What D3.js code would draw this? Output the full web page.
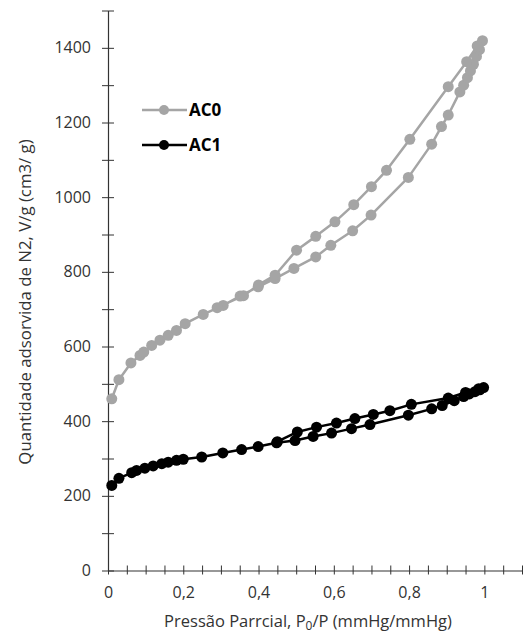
<!DOCTYPE html>
<html>
<head>
<meta charset="utf-8">
<script src="https://cdn.jsdelivr.net/npm/d3@7"></script>
<style>
  html, body { margin: 0; padding: 0; background: #fff; }
  svg { display: block; font-family: "Open Sans", "DejaVu Sans", sans-serif; }
</style>
</head>
<body>
<svg id="chart" width="524" height="637"></svg>
<script>
// ---- Data ----
const seriesNames = ["AC0", "AC1"];

// AC0: adsorption (increasing P/P0) then desorption (decreasing)
const ac0P = [0.010, 0.029, 0.061, 0.085, 0.095, 0.116, 0.138, 0.160, 0.182, 0.205,
              0.253, 0.306, 0.351, 0.399, 0.444, 0.494, 0.552, 0.592, 0.650, 0.699,
              0.798, 0.860, 0.886, 0.904, 0.935, 0.945, 0.955, 0.963, 0.971, 0.979,
              0.987, 0.995,
              0.981, 0.953, 0.904, 0.802, 0.740, 0.700, 0.653, 0.603, 0.552, 0.501,
              0.444, 0.400, 0.360, 0.290];
const ac0V = [460, 511, 556, 576, 585, 603, 617, 630, 643, 661,
              686, 710, 735, 760, 782, 809, 840, 871, 910, 952,
              1053, 1142, 1189, 1220, 1282, 1300, 1320, 1338, 1356, 1377,
              1395, 1419,
              1405, 1363, 1296, 1155, 1072, 1028, 980, 934, 895, 858,
              791, 765, 736, 704];

// AC1: adsorption then desorption
const ac1P = [0.010, 0.029, 0.063, 0.076, 0.098, 0.120, 0.143, 0.160, 0.182, 0.200,
              0.249, 0.305, 0.355, 0.399, 0.448, 0.497, 0.545, 0.594, 0.647, 0.696,
              0.798, 0.860, 0.888, 0.920, 0.945, 0.960, 0.975, 0.988, 0.998,
              0.985, 0.950, 0.904, 0.806, 0.749, 0.705, 0.656, 0.607, 0.554, 0.503,
              0.450];
const ac1V = [228, 247, 262, 268, 274, 280, 286, 290, 295, 298,
              304, 315, 324, 332, 342, 348, 359, 368, 380, 391,
              416, 433, 442, 455, 466, 473, 479, 484, 490,
              487, 477, 462, 445, 428, 418, 407, 395, 384, 371,
              345];

const xTicks = d3.range(0, 23).map(i => +(i * 0.05).toFixed(2));   // 0 .. 1.1
const xLabelTicks = [0, 0.2, 0.4, 0.6, 0.8, 1];
const yTicks = d3.range(0, 1501, 100);
const yLabelTicks = [0, 200, 400, 600, 800, 1000, 1200, 1400];

const xTitle = "Pressão Parrcial, P";
const xTitleSub = "0";
const xTitleRest = "/P (mmHg/mmHg)";
const yTitle = "Quantidade adsorvida de N2, V/g (cm3/ g)";

// ---- Chart ----
const svg = d3.select("#chart");
const x = d3.scaleLinear().domain([0, 1.1]).range([108, 522]);
const y = d3.scaleLinear().domain([0, 1500]).range([570.5, 10.5]);

const locale = d3.formatLocale({decimal: ",", thousands: ".", grouping: [3], currency: ["", ""]});
const fmtX = locale.format("~g");

const axisColor = "#333333";
const textColor = "#333333";

// X axis
const xAxis = d3.axisBottom(x)
  .tickValues(xTicks)
  .tickSize(5)
  .tickSizeOuter(0)
  .tickFormat(d => xLabelTicks.some(v => Math.abs(v - d) < 1e-9) ? fmtX(d) : "");
const gx = svg.append("g").attr("transform", `translate(0,${y(0)})`).call(xAxis);
gx.select(".domain").attr("stroke", axisColor).attr("stroke-width", 1.2);
gx.selectAll(".tick line").attr("stroke", axisColor).attr("y1", -5).attr("y2", 4);
gx.selectAll(".tick text").attr("fill", textColor).attr("font-size", 16)
  .attr("font-family", "Open Sans").attr("y", 16);

// Y axis
const yAxis = d3.axisLeft(y)
  .tickValues(yTicks)
  .tickSize(6)
  .tickSizeOuter(0)
  .tickFormat(d => yLabelTicks.includes(d) ? String(d) : "");
const gy = svg.append("g").attr("transform", `translate(${x(0)},0)`).call(yAxis);
gy.select(".domain").attr("stroke", axisColor).attr("stroke-width", 1.2);
gy.selectAll(".tick line").attr("stroke", axisColor).attr("x1", 6).attr("x2", -6);
gy.selectAll(".tick text").attr("fill", textColor).attr("font-size", 16)
  .attr("font-family", "Open Sans").attr("x", -17);

// Axis titles
const xt = svg.append("text")
  .attr("x", 308).attr("y", 627)
  .attr("text-anchor", "middle")
  .attr("fill", textColor)
  .attr("font-size", 16.5);
xt.append("tspan").text(xTitle);
xt.append("tspan").attr("font-size", 12).attr("dy", 3).text(xTitleSub);
xt.append("tspan").attr("dy", -3).text(xTitleRest);

svg.append("text")
  .attr("transform", "translate(31,302) rotate(-90)")
  .attr("text-anchor", "middle")
  .attr("fill", textColor)
  .attr("font-size", 16.8)
  .text(yTitle);

// Series
const series = [
  {name: seriesNames[0], P: ac0P, V: ac0V, color: "#a5a5a5"},
  {name: seriesNames[1], P: ac1P, V: ac1V, color: "#000000"}
];

const line = d3.line().x(d => x(d[0])).y(d => y(d[1]));

series.forEach(s => {
  const pts = s.P.map((p, i) => [p, s.V[i]]);
  const g = svg.append("g");
  g.append("path").datum(pts)
    .attr("fill", "none").attr("stroke", s.color).attr("stroke-width", 2.5)
    .attr("stroke-linejoin", "round")
    .attr("d", line);
  g.selectAll("circle").data(pts).join("circle")
    .attr("cx", d => x(d[0])).attr("cy", d => y(d[1]))
    .attr("r", 5.5).attr("fill", s.color);
});

// Legend
const legend = svg.append("g");
series.forEach((s, i) => {
  const ly = 110 + i * 35;
  legend.append("line").attr("x1", 142).attr("x2", 187).attr("y1", ly).attr("y2", ly)
    .attr("stroke", s.color).attr("stroke-width", 2.5);
  legend.append("circle").attr("cx", 164).attr("cy", ly).attr("r", 5).attr("fill", s.color);
  legend.append("text").attr("x", 189).attr("y", ly + 6)
    .attr("font-size", 17).attr("font-weight", "bold").attr("fill", "#000")
    .text(s.name);
});
</script>
</body>
</html>
